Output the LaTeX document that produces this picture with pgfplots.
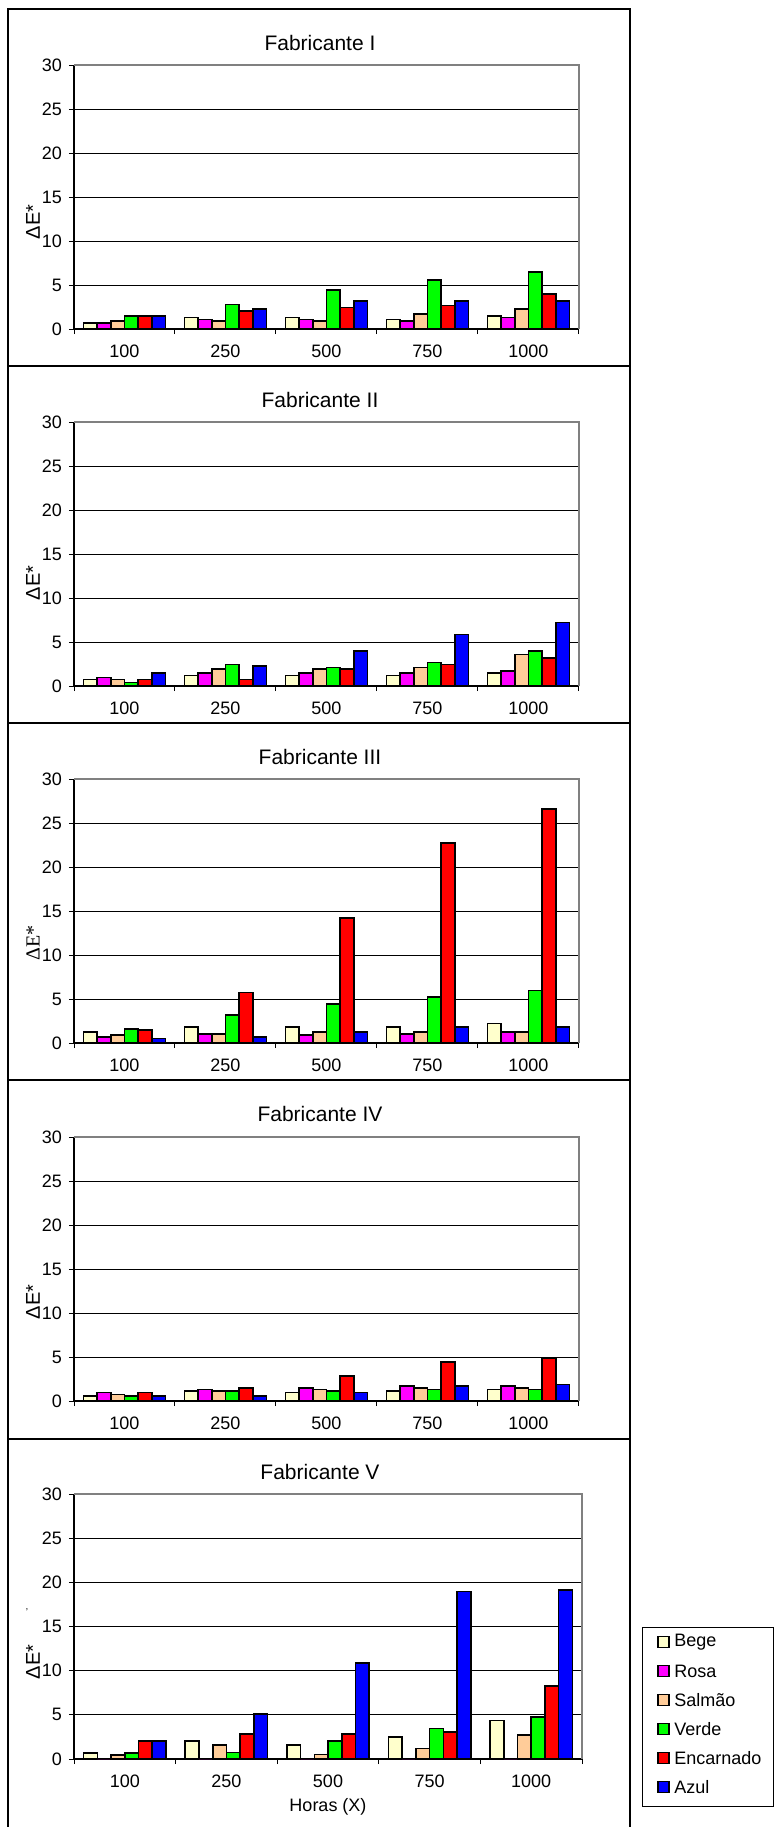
\documentclass[border=0pt]{standalone}
\usepackage{fontspec}
\setmainfont{Liberation Sans}
\newfontfamily\serifa{Liberation Serif}
\usepackage{pgfplots}
\usepackage{pgfplotstable}
\pgfplotsset{compat=1.18}

\definecolor{bege}{HTML}{FFFFCC}
\definecolor{rosa}{HTML}{FF00FF}
\definecolor{salmao}{HTML}{FFCC99}
\definecolor{verde}{HTML}{00FF00}
\definecolor{encarnado}{HTML}{FF0000}
\definecolor{azul}{HTML}{0000FF}

% x: 0=100h, 1=250h, 2=500h, 3=750h, 4=1000h
\pgfplotstableread{
x bege rosa salmao verde encarnado azul
0 0.70 0.70 0.90 1.50 1.50 1.50
1 1.30 1.10 0.90 2.80 2.05 2.30
2 1.30 1.10 0.90 4.40 2.45 3.20
3 1.10 0.90 1.70 5.55 2.65 3.20
4 1.50 1.30 2.30 6.50 3.95 3.20
}\fabI
\pgfplotstableread{
x bege rosa salmao verde encarnado azul
0 0.75 0.95 0.75 0.40 0.75 1.50
1 1.20 1.50 1.90 2.45 0.75 2.25
2 1.20 1.50 1.90 2.10 1.90 4.00
3 1.20 1.50 2.10 2.65 2.45 5.85
4 1.50 1.70 3.60 4.00 3.20 7.20
}\fabII
\pgfplotstableread{
x bege rosa salmao verde encarnado azul
0 1.25 0.70 0.90 1.60 1.45 0.50
1 1.80 1.05 1.05 3.20 5.75 0.70
2 1.80 0.90 1.25 4.45 14.20 1.25
3 1.80 1.05 1.25 5.20 22.70 1.80
4 2.20 1.25 1.25 5.95 26.60 1.80
}\fabIII
\pgfplotstableread{
x bege rosa salmao verde encarnado azul
0 0.55 0.95 0.75 0.55 0.95 0.55
1 1.15 1.30 1.15 1.15 1.50 0.55
2 0.95 1.50 1.30 1.15 2.85 0.95
3 1.15 1.70 1.50 1.30 4.45 1.70
4 1.30 1.70 1.50 1.30 4.90 1.90
}\fabIV
% Rosa has no bars for Fabricante V
\pgfplotstableread{
x bege rosa salmao verde encarnado azul
0 0.65 0 0.45 0.65 2.05 2.05
1 2.05 0 1.60 0.75 2.85 5.10
2 1.60 0 0.50 2.05 2.85 10.90
3 2.50 0 1.20 3.45 3.05 18.95
4 4.35 0 2.70 4.75 8.30 19.15
}\fabV

\newcommand{\px}{*0.5pt}
\newcommand{\rotulo}{\fontsize{9}{10}\selectfont}

\newcommand{\barras}[2][]{%
  \addplot[fill=bege] table[x=x,y=bege]{#2};
  \addplot[fill=rosa,#1] table[x=x,y=rosa]{#2};
  \addplot[fill=salmao] table[x=x,y=salmao]{#2};
  \addplot[fill=verde] table[x=x,y=verde]{#2};
  \addplot[fill=encarnado] table[x=x,y=encarnado]{#2};
  \addplot[fill=azul] table[x=x,y=azul]{#2};
}

\pgfplotsset{
  painel/.style={
    scale only axis, width=252.5pt, height=132pt, anchor=south west,
    ybar=0pt, bar width=6.85pt,
    xmin=-0.5, xmax=4.5, ymin=0, ymax=30,
    xtick={0,...,4}, xticklabels={100,250,500,750,1000},
    minor xtick={-0.5,0.5,...,4.5},
    ytick={0,5,...,30},
    axis x line*=bottom, axis y line*=left,
    axis line style={black, line width=0.6pt, -},
    ymajorgrids, major grid style={black, line width=0.5pt},
    tick align=outside, major tick length=2.5pt, minor tick length=2.5pt,
    major x tick style={draw=none},
    tick style={black, line width=0.5pt},
    every axis plot/.append style={draw=black, line width=0.8pt},
    tick label style={font=\rotulo},
    xticklabel style={yshift=-2pt},
    /pgf/number format/assume math mode=true,
    clip=false,
    after end axis/.code={
      \draw[gray, line width=0.6pt] (rel axis cs:0,1) -- (rel axis cs:1,1) -- (rel axis cs:1,0);
    },
  },
}

\begin{document}
\begin{tikzpicture}
\useasboundingbox (0,0) rectangle (775\px,-1827\px);

% panel frames
\draw[line width=1pt] (8\px,-9\px) rectangle (630\px,-366\px);
\draw[line width=1pt] (8\px,-366\px) rectangle (630\px,-723\px);
\draw[line width=1pt] (8\px,-723\px) rectangle (630\px,-1080\px);
\draw[line width=1pt] (8\px,-1080\px) rectangle (630\px,-1439\px);
\draw[line width=1pt] (8\px,-1439\px) rectangle (630\px,-1850\px);

\begin{axis}[painel, at={(74\px,-329\px)}]
  \barras{\fabI}
\end{axis}
\begin{axis}[painel, at={(74\px,-686\px)}]
  \barras{\fabII}
\end{axis}
\begin{axis}[painel, at={(74\px,-1043\px)}]
  \barras{\fabIII}
\end{axis}
\begin{axis}[painel, at={(74\px,-1401\px)}]
  \barras{\fabIV}
\end{axis}
\begin{axis}[painel, at={(74\px,-1759\px)}, width=254pt, height=132.5pt]
  \barras[draw=none]{\fabV}
\end{axis}

% titles
\node at (320\px,-43\px) {\fontsize{10.5}{12}\selectfont Fabricante I};
\node at (320\px,-400\px) {\fontsize{10.5}{12}\selectfont Fabricante II};
\node at (320\px,-757\px) {\fontsize{10.5}{12}\selectfont Fabricante III};
\node at (320\px,-1114\px) {\fontsize{10.5}{12}\selectfont Fabricante IV};
\node at (320\px,-1472\px) {\fontsize{10.5}{12}\selectfont Fabricante V};

% y labels
\node[rotate=90] at (33\px,-222\px) {\fontsize{10}{12}\selectfont ΔE*};
\node[rotate=90] at (33\px,-583\px) {\fontsize{10}{12}\selectfont ΔE*};
\node[rotate=90] at (33\px,-943\px) {\fontsize{10}{12}\selectfont\serifa ΔE*};
\node[rotate=90] at (33\px,-1302\px) {\fontsize{10}{12}\selectfont ΔE*};
\node[rotate=90] at (33\px,-1662\px) {\fontsize{10}{12}\selectfont ΔE*};
\node at (27\px,-1612\px) {\fontsize{5}{6}\selectfont '};

% x label
\node at (328\px,-1807\px) {\rotulo Horas (X)};

% legend
\draw[line width=0.5pt] (642\px,-1627\px) rectangle (773.5\px,-1806\px);
\foreach \c/\t [count=\i from 0] in {bege/Bege, rosa/Rosa, salmao/Salmão, verde/Verde, encarnado/Encarnado, azul/Azul} {
  \pgfmathsetmacro\yy{-(1642+29*\i)*0.5}
  \draw[fill=\c, line width=0.6pt] (329pt,{\yy pt+2.6pt}) rectangle (334.5pt,{\yy pt-2.6pt});
  \node[anchor=west, inner sep=0pt] at (337pt,\yy pt) {\rotulo\t};
}
\end{tikzpicture}
\end{document}
